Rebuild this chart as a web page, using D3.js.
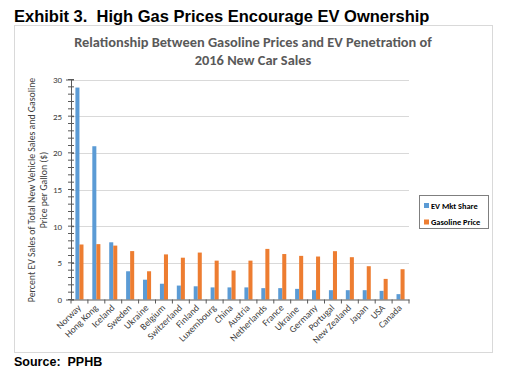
<!DOCTYPE html>
<html><head><meta charset="utf-8">
<script src="https://cdn.jsdelivr.net/npm/d3@7"></script>
<style>body{margin:0;background:#fff}svg{display:block}text{white-space:pre}</style>
</head><body>
<svg id="c" width="525" height="379"></svg>
<script>
const categories = ["Norway","Hong Kong","Iceland","Sweden","Ukraine","Belgium","Switzerland","Finland","Luxembourg","China","Austria","Netherlands","France","Ukraine ","Germany","Portugal","New Zealand","Japan","USA","Canada"];
const evShare = [28.9,20.9,7.8,3.85,2.7,2.15,1.9,1.8,1.65,1.65,1.65,1.55,1.55,1.45,1.27,1.27,1.27,1.27,1.18,0.73];
const gasPrice = [7.5,7.55,7.35,6.6,3.85,6.15,5.7,6.4,5.3,3.95,5.3,6.9,6.2,5.95,5.86,6.59,5.77,4.54,2.81,4.13];
const seriesNames = ["EV Mkt Share","Gasoline Price"];
const yTicks = [0,5,10,15,20,25,30];
const colors = ["#5b9bd5","#ed7d31"];

const svg = d3.select("#c");
const pLeft = 71, pRight = 409, pTop = 79.5, pBottom = 299.5;

svg.append("text").attr("x",14).attr("y",22).attr("font-family","Liberation Sans, Arial, sans-serif")
  .attr("font-weight","bold").attr("font-size",16.5).attr("fill","#000").text("Exhibit 3.  High Gas Prices Encourage EV Ownership");
svg.append("rect").attr("x",14.5).attr("y",25.5).attr("width",478).attr("height",327).attr("fill","#fff").attr("stroke","#d9d9d9");
svg.append("text").attr("x",14).attr("y",366).attr("font-family","Liberation Sans, Arial, sans-serif")
  .attr("font-weight","bold").attr("font-size",12.5).attr("fill","#000").text("Source:  PPHB");

const tf = "Carlito, Lato, 'Open Sans', sans-serif";
svg.append("text").attr("x",253).attr("y",47).attr("text-anchor","middle").attr("font-family",tf).attr("font-weight","bold")
  .attr("font-size",14.4).attr("fill","#595959").text("Relationship Between Gasoline Prices and EV Penetration of");
svg.append("text").attr("x",253).attr("y",65).attr("text-anchor","middle").attr("font-family",tf).attr("font-weight","bold")
  .attr("font-size",14.4).attr("fill","#595959").text("2016 New Car Sales");

const x = d3.scaleBand().domain(categories).range([pLeft,pRight]);
const y = d3.scaleLinear().domain([0,30]).range([pBottom,pTop]);
const inner = d3.scaleBand().domain(seriesNames).range([0,x.bandwidth()]).paddingInner(0).paddingOuter(1.095);

// gridlines
svg.append("g").selectAll("line").data(yTicks.slice(1)).join("line")
  .attr("x1",pLeft).attr("x2",pRight).attr("y1",d=>Math.round(y(d))+0.5).attr("y2",d=>Math.round(y(d))+0.5)
  .attr("stroke","#d9d9d9");

// bars
const data = [evShare, gasPrice];
data.forEach((arr,si)=>{
  svg.append("g").selectAll("rect").data(arr).join("rect")
    .attr("x",(d,i)=>x(categories[i])+inner(seriesNames[si]))
    .attr("width",inner.bandwidth())
    .attr("y",d=>y(d)).attr("height",d=>y(0)-y(d))
    .attr("fill",colors[si]);
});

// y axis
const ya = svg.append("g").attr("transform",`translate(${pLeft},0)`)
  .call(d3.axisLeft(y).tickValues(yTicks).tickSize(5).tickPadding(4));
ya.select(".domain").attr("stroke","#595959");
ya.selectAll(".tick line").attr("stroke","#595959").attr("x2",3);
ya.selectAll("text").attr("font-family",tf).attr("font-size",9).attr("fill","#404040");
svg.append("g").selectAll("line").data(d3.range(0,31)).join("line")
  .attr("x1",pLeft-3).attr("x2",pLeft+3).attr("y1",d=>y(d)).attr("y2",d=>y(d)).attr("stroke","#595959");

// x axis
const xa = svg.append("g").attr("transform",`translate(0,${pBottom})`)
  .call(d3.axisBottom(x).tickSize(0).tickPadding(0));
xa.select(".domain").attr("stroke","#595959");
xa.selectAll("text").attr("font-family",tf).attr("font-size",9.5).attr("fill","#404040")
  .attr("text-anchor","end").attr("dy",0).attr("y",0)
  .attr("transform",`translate(2,9) rotate(-45)`);
svg.append("g").selectAll("line").data(categories.concat(["_end"])).join("line")
  .attr("x1",(d,i)=>pLeft+i*x.step()).attr("x2",(d,i)=>pLeft+i*x.step())
  .attr("y1",pBottom).attr("y2",pBottom+4).attr("stroke","#595959");

// y label
const yl = svg.append("text").attr("transform",`translate(35,190) rotate(-90)`).attr("text-anchor","middle")
  .attr("font-family",tf).attr("font-size",9.8).attr("fill","#404040");
yl.append("tspan").attr("x",0).attr("y",0).text("Percent EV Sales of Total New Vehicle Sales and Gasoline");
yl.append("tspan").attr("x",0).attr("y",12).text("Price per Gallon ($)");

// legend
const lg = svg.append("g").attr("transform","translate(419,195)");
lg.append("rect").attr("x",0.5).attr("y",0.5).attr("width",69).attr("height",33).attr("fill","#fff").attr("stroke","#7f7f7f");
seriesNames.forEach((s,i)=>{
  lg.append("rect").attr("x",5).attr("y",8+i*16.5).attr("width",5).attr("height",5).attr("fill",colors[i]);
  lg.append("text").attr("x",12).attr("y",13.8+i*16.5).attr("font-family",tf).attr("font-weight","bold")
    .attr("font-size",8.4).attr("fill","#000").text(s);
});
</script>
</body></html>
